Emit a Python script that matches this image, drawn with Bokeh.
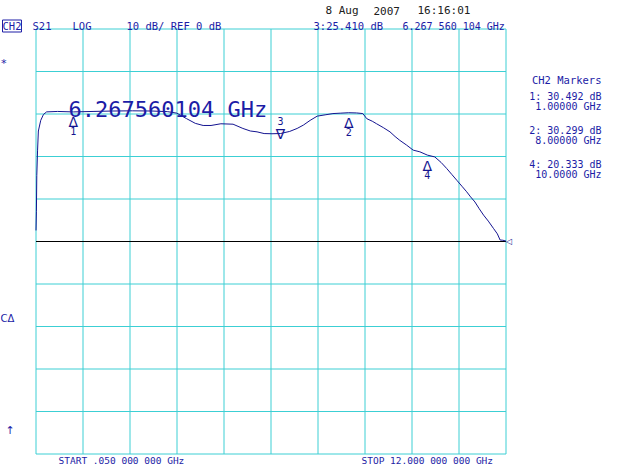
import numpy as np
from bokeh.plotting import figure
from bokeh.models import Range1d, Label, ColumnDataSource
from bokeh.core.properties import value
from bokeh.embed import file_html
from bokeh.resources import INLINE

# ---------------- data ----------------
start_ghz = 0.05
stop_ghz = 12.0
ref_db = 0.0
db_per_div = 10.0
n_div = 10

freq_ghz = [0.05, 0.06, 0.07, 0.09, 0.11, 0.17, 0.24, 0.32, 0.6, 1.0, 1.5, 2.0, 2.5,
            3.0, 3.4, 3.63, 3.88, 4.1, 4.3, 4.5, 4.75, 5.06, 5.31, 5.5, 5.67, 5.85,
            6.05, 6.27, 6.5, 6.69, 6.85, 7.02, 7.2, 7.4, 7.6, 7.8, 8.0, 8.2, 8.36,
            8.46, 8.6, 8.71, 8.88, 9.05, 9.18, 9.3, 9.47, 9.64, 9.81, 10.0, 10.19,
            10.35, 10.49, 10.62, 10.75, 10.88, 11.0, 11.1, 11.21, 11.32, 11.43,
            11.55, 11.68, 11.78, 11.85, 11.92, 12.0]
s21_db = [2.6, 7.0, 15.5, 21.5, 26.0, 28.5, 29.9, 30.5, 30.6, 30.49, 30.6, 30.7, 30.75,
          30.7, 30.55, 30.2, 28.9, 27.8, 27.3, 27.3, 27.7, 27.6, 26.6, 26.0, 25.8, 25.4,
          25.35, 25.41, 25.9, 26.6, 27.4, 28.5, 29.5, 29.8, 30.1, 30.2, 30.3, 30.25, 30.1,
          28.9, 28.3, 27.7, 26.8, 25.8, 24.7, 23.8, 22.7, 21.5, 21.1, 20.33, 19.9,
          18.6, 17.2, 15.8, 14.4, 13.0, 11.7, 10.5, 9.3, 7.7, 6.2,
          4.8, 3.1, 1.8, 0.35, 0.3, 0.1]

marker_ids = ["1", "2", "3", "4"]
marker_f = [1.0, 8.0, 6.267560104, 10.0]
marker_db = [30.492, 30.299, 25.410, 20.333]
active_marker = "3"
listed_markers = ["1", "2", "4"]

date_day = "8 Aug"
date_year = "2007"
date_time = "16:16:01"

# ---------------- style / geometry ----------------
CYAN = "#3ccfd4"
TXT = "#1c1ca6"
TRACE = "#141490"
MONO = "DejaVu Sans Mono"

W, H = 640, 465
PX0, PX1 = 35.5, 505.5      # screen x of start / stop
PY0, PY1 = 28.5, 453.5      # screen y of top / bottom of graticule

y_lo = ref_db - db_per_div * n_div / 2
y_hi = ref_db + db_per_div * n_div / 2
kx = (stop_ghz - start_ghz) / (PX1 - PX0)
ky = (y_hi - y_lo) / (PY1 - PY0)

p = figure(width=W, height=H, output_backend="svg", toolbar_location=None,
           x_range=Range1d(start_ghz - PX0 * kx, start_ghz + (W - PX0) * kx),
           y_range=Range1d(y_lo - (H - PY1) * ky, y_hi + PY0 * ky),
           x_axis_type=None, y_axis_type=None,
           min_border=0, min_border_left=0, min_border_right=0,
           min_border_top=0, min_border_bottom=0,
           background_fill_color="white", border_fill_color="white",
           outline_line_color=None)

# graticule
x_ticks = list(np.linspace(start_ghz, stop_ghz, n_div + 1))
y_ticks = list(np.linspace(y_lo, y_hi, n_div + 1))
p.segment(x0=x_ticks, y0=[y_lo] * len(x_ticks), x1=x_ticks, y1=[y_hi] * len(x_ticks),
          line_color=CYAN, line_width=1)
p.segment(x0=[start_ghz] * len(y_ticks), y0=y_ticks, x1=[stop_ghz] * len(y_ticks),
          y1=y_ticks, line_color=CYAN, line_width=1)
# reference line
p.segment(x0=[start_ghz], y0=[ref_db], x1=[stop_ghz], y1=[ref_db],
          line_color="black", line_width=1)

# trace
p.line(freq_ghz, s21_db, line_color=TRACE, line_width=1)


def dx(px):
    return start_ghz + (px - PX0) * kx


def dy(py):
    return y_hi - (py - PY0) * ky


def lab(text, px, py, size="10px", color=TXT, align="left", baseline="alphabetic",
        font=MONO, **kw):
    p.add_layout(Label(x=dx(px), y=dy(py), text=text, text_font=font,
                       text_font_size=size, text_color=color, text_align=align,
                       text_baseline=baseline, **kw))


# markers
up_src = ColumnDataSource(dict(
    x=[f for m, f in zip(marker_ids, marker_f) if m != active_marker],
    y=[d for m, d in zip(marker_ids, marker_db) if m != active_marker],
    t=[m for m in marker_ids if m != active_marker]))
dn_src = ColumnDataSource(dict(
    x=[f for m, f in zip(marker_ids, marker_f) if m == active_marker],
    y=[d for m, d in zip(marker_ids, marker_db) if m == active_marker],
    t=[m for m in marker_ids if m == active_marker]))

p.text(x="x", y="y", text=value("\u0394"), source=up_src, text_font=value("DejaVu Sans"),
       text_font_size="14px", text_color=TRACE, text_align="center",
       text_baseline="alphabetic", y_offset=10.5)
p.text(x="x", y="y", text="t", source=up_src, text_font=value(MONO),
       text_font_size="10px", text_color=TRACE, text_align="center",
       text_baseline="alphabetic", y_offset=19.5)
p.text(x="x", y="y", text=value("\u2207"), source=dn_src, text_font=value("DejaVu Sans"),
       text_font_size="14px", text_color=TRACE, text_align="center",
       text_baseline="alphabetic", y_offset=0.5)
p.text(x="x", y="y", text="t", source=dn_src, text_font=value(MONO),
       text_font_size="10px", text_color=TRACE, text_align="center",
       text_baseline="alphabetic", y_offset=-12.5)

# active marker readout
ai = marker_ids.index(active_marker)
af = marker_f[ai]
fs = f"{af:.9f}"
spaced = fs[:5] + " " + fs[5:8] + " " + fs[8:]
lab(f"{fs} GHz", 68, 109, size="22px", color=TXT)

# header
lab("CH2", 2, 25.5, size="10.5px", border_line_color=TXT, border_line_width=1)
lab("S21", 32, 25.5, size="10.5px")
lab("LOG", 72, 25.5, size="10.5px")
lab(f"{db_per_div:.0f} dB/ REF {ref_db:.0f} dB", 126, 25.5, size="10.5px")
lab(date_day, 325, 10, size="11px", color="#202020")
lab(date_year, 373, 10, size="11px", color="#202020")
lab(date_time, 417, 10, size="11px", color="#202020")
lab(f"{active_marker}:{marker_db[ai]:.3f} dB", 313, 25.5, size="10.5px")
lab(f"{spaced} GHz", 402, 25.5, size="10px")

# side marker table
lab("CH2 Markers", 601, 79, align="right", size="10.5px")
row_y = [96, 130, 164]
for m, yy in zip(listed_markers, row_y):
    i = marker_ids.index(m)
    lab(f"{m}: {marker_db[i]:.3f} dB", 601, yy, align="right")
    lab(f"{marker_f[i]:#.6g} GHz", 601, yy + 10, align="right")

# left indicators
lab("*", 0, 63, size="11px")
lab("C\u0394", 0, 318, font="DejaVu Sans", size="10px")
lab("\u2191", 5, 430, font="DejaVu Sans", size="11px")

# reference level indicator
p.add_layout(Label(x=stop_ghz, y=ref_db, text="\u25c1", text_font="DejaVu Sans",
                   text_font_size="8px", text_color=TRACE, text_align="left",
                   text_baseline="middle", x_offset=0))

# footer
lab(f"START {start_ghz:.3f}".replace("0.", ".", 1) + " 000 000 GHz", 58, 459.5,
    size="9.5px")
lab(f"STOP {stop_ghz:.3f} 000 000 GHz", 361, 459.5, size="9.5px")

open("out.html", "w").write(file_html(p, INLINE))
